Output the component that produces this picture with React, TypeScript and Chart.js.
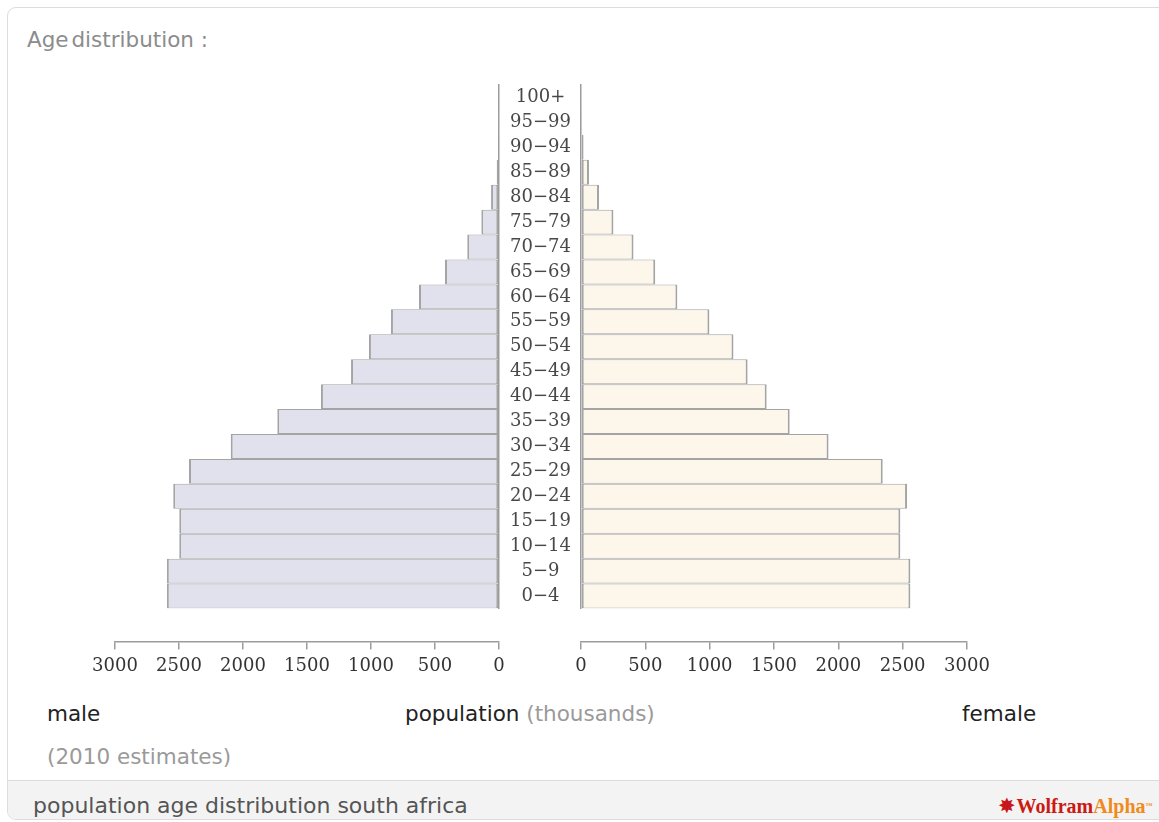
import React, { useEffect, useRef } from 'react';
import { Chart, registerables } from 'chart.js';

Chart.register(...registerables);

// ---- data (youngest group first) ----
const ageGroups = ['0−4', '5−9', '10−14', '15−19', '20−24', '25−29', '30−34', '35−39', '40−44', '45−49', '50−54', '55−59', '60−64', '65−69', '70−74', '75−79', '80−84', '85−89', '90−94', '95−99', '100+'];
const maleValues = [2595, 2595, 2498, 2498, 2545, 2422, 2096, 1732, 1391, 1156, 1016, 844, 625, 422, 248, 138, 62, 18, 8, 2, 0];
const femaleValues = [2560, 2560, 2482, 2482, 2534, 2345, 1924, 1622, 1443, 1295, 1185, 998, 749, 577, 408, 252, 140, 62, 20, 3, 0];
const axisMin = 0;
const axisMax = 3000;
const axisStep = 500;

const SERIF = "'DejaVu Serif', serif";
const SANS = "'DejaVu Sans', sans-serif";
const AXIS_GRAY = '#9c9c9c';
const BAR_BORDER = '#a4a4a4';

// x axis is placed a little below the last category (in category units)
const X_AXIS_AT = 21.85;

function makeConfig(side: 'male' | 'female'): any {
  const labels = [...ageGroups].reverse();
  const values = side === 'male' ? [...maleValues].reverse() : [...femaleValues].reverse();
  const isMale = side === 'male';
  return {
    type: 'bar',
    data: {
      labels,
      datasets: [
        {
          data: values,
          backgroundColor: isMale ? '#e1e1ee' : '#fdf6ea',
          borderColor: BAR_BORDER,
          borderWidth: { top: 1, bottom: 1, left: 2, right: 2 },
          borderSkipped: false,
          barPercentage: 1,
          categoryPercentage: 1,
          inflateAmount: 0,
        },
      ],
    },
    options: {
      indexAxis: 'y',
      animation: false,
      responsive: false,
      maintainAspectRatio: false,
      events: [],
      layout: {
        padding: isMale
          ? { left: 55, right: 31, top: 25, bottom: 91.5 }
          : { left: 29, right: 29, top: 25, bottom: 91.5 },
      },
      plugins: {
        legend: { display: false },
        tooltip: { enabled: false },
        title: { display: false },
      },
      scales: {
        x: {
          type: 'linear',
          min: axisMin,
          max: axisMax,
          reverse: isMale,
          position: { y: X_AXIS_AT },
          grid: {
            display: true,
            drawOnChartArea: false,
            drawTicks: true,
            tickLength: 7,
            color: AXIS_GRAY,
            lineWidth: 1.5,
          },
          border: { display: true, color: AXIS_GRAY, width: 1.5 },
          ticks: {
            stepSize: axisStep,
            padding: 6,
            color: '#333',
            maxRotation: 0,
            autoSkip: false,
            font: { family: SERIF, size: 18 },
            callback: (v: any) => String(v),
          },
        },
        y: {
          type: 'category',
          position: isMale ? 'right' : 'left',
          grid: { display: false, drawTicks: false },
          border: { display: true, color: AXIS_GRAY, width: 1.5 },
          ticks: isMale
            ? { display: false }
            : {
                display: true,
                autoSkip: false,
                crossAlign: 'center',
                padding: 10,
                color: '#484848',
                font: { family: SERIF, size: 18 },
              },
          afterFit: (scale: any) => {
            scale.width = isMale ? 0 : 82;
          },
        },
      },
    },
  };
}

function PyramidHalf({ side, left, width }: { side: 'male' | 'female'; left: number; width: number }) {
  const ref = useRef<HTMLCanvasElement | null>(null);
  useEffect(() => {
    if (!ref.current) return;
    const chart = new Chart(ref.current, makeConfig(side));
    return () => chart.destroy();
  }, [side]);
  return (
    <canvas
      ref={ref}
      width={width}
      height={640}
      style={{ position: 'absolute', left, top: 60, width, height: 640 }}
    />
  );
}

const txt = (extra: React.CSSProperties): React.CSSProperties => ({
  position: 'absolute',
  fontFamily: SANS,
  fontSize: 21.5,
  lineHeight: '26px',
  whiteSpace: 'nowrap',
  ...extra,
});

export default function App() {
  return (
    <div style={{ position: 'absolute', left: 0, top: 0, width: 1159, height: 822, overflow: 'hidden', background: '#fff' }}>
      {/* card */}
      <div
        style={{
          position: 'absolute',
          left: 7,
          top: 7,
          width: 1200,
          height: 813,
          border: '1.5px solid #dcdcdc',
          borderRadius: 9,
          boxSizing: 'border-box',
          overflow: 'hidden',
        }}
      >
        <div
          style={{
            position: 'absolute',
            left: 0,
            right: 0,
            top: 772,
            bottom: 0,
            background: '#f3f3f3',
            borderTop: '1.5px solid #dcdcdc',
          }}
        />
      </div>

      <div style={txt({ left: 27, top: 27, fontSize: 21.5, color: '#8c8c8c' })}>
        <span style={{ wordSpacing: -4 }}>Age distribution</span> :
      </div>

      <PyramidHalf side="male" left={60} width={470} />
      <PyramidHalf side="female" left={470} width={526} />

      <div style={txt({ left: 47, top: 701, color: '#222' })}>male</div>
      <div style={txt({ left: 405, top: 701, color: '#222' })}>
        population <span style={{ color: '#9a9a9a' }}>(thousands)</span>
      </div>
      <div style={txt({ left: 962, top: 701, color: '#222' })}>female</div>
      <div style={txt({ left: 47, top: 744, color: '#9a9a9a' })}>(2010 estimates)</div>

      <div style={txt({ left: 33, top: 793, fontSize: 22, color: '#555' })}>population age distribution south africa</div>

      <div style={txt({ left: 998, top: 793, fontSize: 20, fontFamily: "'Liberation Serif', serif", fontWeight: 700 })}>
        <span style={{ color: '#c8161d', fontFamily: SANS, fontSize: 21, marginRight: 1 }}>✸</span>
        <span style={{ color: '#cc1a12' }}>Wolfram</span>
        <span style={{ color: '#f08a1c' }}>Alpha</span>
        <span style={{ color: '#f08a1c', fontSize: 7, verticalAlign: 'top' }}>™</span>
      </div>
    </div>
  );
}
